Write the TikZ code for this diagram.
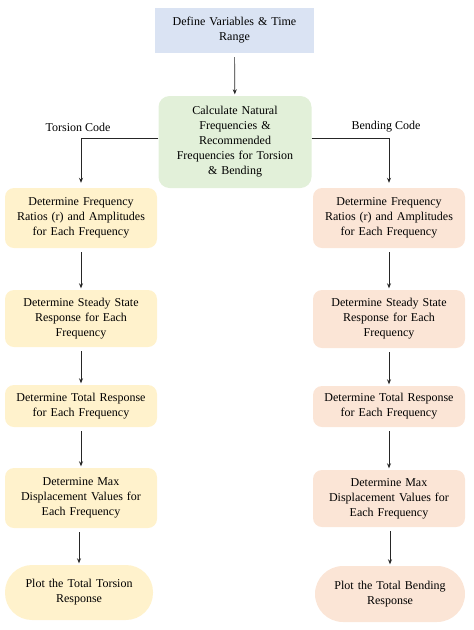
\documentclass[tikz,border=0pt]{standalone}
\usepackage{fontspec}
\setmainfont{Liberation Serif}
\usetikzlibrary{arrows.meta}
\definecolor{topblue}{HTML}{DAE3F3}
\definecolor{calcgreen}{HTML}{E2F0D9}
\definecolor{torsy}{HTML}{FFF2CC}
\definecolor{bendp}{HTML}{FBE5D6}
\begin{document}
\begin{tikzpicture}[x=1pt,y=-1pt,
  every node/.style={font=\fontsize{12}{15}\selectfont, align=center, inner sep=0pt},
  boxbase/.style={minimum width=152pt, text width=148pt},
  tbox/.style={boxbase, fill=torsy, rounded corners=9pt},
  bbox/.style={boxbase, fill=bendp, rounded corners=9pt},
  flow/.style={draw=black!85, line width=0.7pt, -{Stealth[length=5pt,width=4pt]}, shorten >=1.5pt, shorten <=4pt}
]
\useasboundingbox (0,0) rectangle (474,630);
\node[fill=topblue, minimum width=159pt, minimum height=45pt, text width=150pt] (top) at (234.5,30.5) {Define Variables \& Time\\Range};
\node[fill=calcgreen, rounded corners=11pt, minimum width=153pt, minimum height=92pt, text width=150pt] (calc) at (235,142) {Calculate Natural\\Frequencies \&\\Recommended\\Frequencies for Torsion\\\& Bending};

% torsion column
\node[tbox, minimum height=60pt] (t1) at (81,218) {Determine Frequency\\Ratios (r) and Amplitudes\\for Each Frequency};
\node[tbox, minimum height=57pt] (t2) at (81,318.5) {Determine Steady State\\Response for Each\\Frequency};
\node[tbox, minimum height=42pt] (t3) at (81,406) {Determine Total Response\\for Each Frequency};
\node[tbox, minimum height=60pt] (t4) at (81,498) {Determine Max\\Displacement Values for\\Each Frequency};
\node[tbox, minimum width=148pt, minimum height=55pt, rounded corners=27pt] (t5) at (79,592.5) {Plot the Total Torsion\\Response};

% bending column
\node[bbox, minimum height=60pt] (b1) at (389,218) {Determine Frequency\\Ratios (r) and Amplitudes\\for Each Frequency};
\node[bbox, minimum height=58pt] (b2) at (389,319) {Determine Steady State\\Response for Each\\Frequency};
\node[bbox, minimum height=41pt] (b3) at (389,406.5) {Determine Total Response\\for Each Frequency};
\node[bbox, minimum height=57pt] (b4) at (389,498.5) {Determine Max\\Displacement Values for\\Each Frequency};
\node[bbox, minimum width=150pt, minimum height=56pt, rounded corners=28pt] (b5) at (390,594) {Plot the Total Bending\\Response};

% labels
\node (tlab) at (78,127) {Torsion Code};
\node (blab) at (386,127) {Bending Code};

% connectors
\draw[flow] (top) -- (calc);
\coordinate (cl) at ([yshift=4pt]calc.west);
\coordinate (cr) at ([yshift=4pt]calc.east);
\draw[flow, shorten <=0pt, shorten >=5pt] (cl) -| (t1.north);
\draw[flow, shorten <=0pt, shorten >=5pt] (cr) -| (b1.north);
\draw[flow] (t1) -- (t2);
\draw[flow] (t2) -- (t3);
\draw[flow] (t3) -- (t4);
\draw[flow] (t4.south -| t5.north) -- (t5.north);
\draw[flow] (b1) -- (b2);
\draw[flow] (b2) -- (b3);
\draw[flow] (b3) -- (b4);
\draw[flow] (b4.south -| b5.north) -- (b5.north);
\end{tikzpicture}
\end{document}
